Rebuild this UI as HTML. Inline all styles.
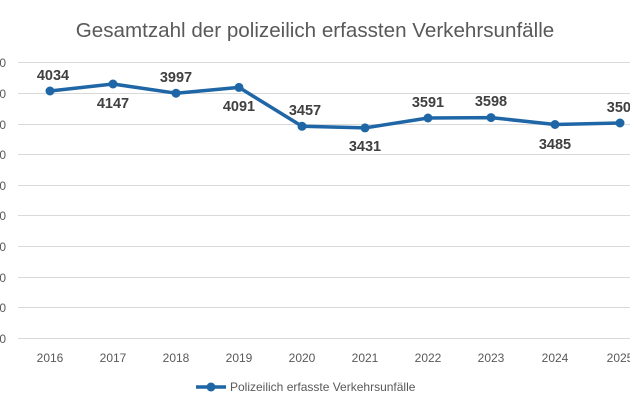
<!DOCTYPE html>
<html><head><style>
body{margin:0;background:#fff;}
svg{display:block;font-family:"Liberation Sans",sans-serif;}
</style></head><body>
<svg width="630" height="412" viewBox="0 0 630 412">
<rect width="630" height="412" fill="#fff"/>
<text x="315" y="37" text-anchor="middle" font-size="20.6" fill="#595959">Gesamtzahl der polizeilich erfassten Verkehrsunfälle</text>
<g stroke="#d9d9d9" stroke-width="1">
<line x1="18" x2="630" y1="62.5" y2="62.5"/><line x1="18" x2="630" y1="93.5" y2="93.5"/>
<line x1="18" x2="630" y1="124.5" y2="124.5"/><line x1="18" x2="630" y1="154.5" y2="154.5"/>
<line x1="18" x2="630" y1="185.5" y2="185.5"/><line x1="18" x2="630" y1="215.5" y2="215.5"/>
<line x1="18" x2="630" y1="246.5" y2="246.5"/><line x1="18" x2="630" y1="277.5" y2="277.5"/>
<line x1="18" x2="630" y1="307.5" y2="307.5"/><line x1="18" x2="630" y1="338.5" y2="338.5"/>
</g>
<g font-size="12" fill="#595959" text-anchor="end">
<text x="6" y="67">0</text><text x="6" y="98">0</text><text x="6" y="129">0</text><text x="6" y="159">0</text><text x="6" y="190">0</text><text x="6" y="220">0</text><text x="6" y="251">0</text><text x="6" y="282">0</text><text x="6" y="312">0</text><text x="6" y="343">0</text>
</g>
<g font-size="12" fill="#595959" text-anchor="middle">
<text x="50" y="362">2016</text><text x="113" y="362">2017</text><text x="176" y="362">2018</text><text x="239" y="362">2019</text><text x="302" y="362">2020</text><text x="365" y="362">2021</text><text x="428" y="362">2022</text><text x="491" y="362">2023</text><text x="555" y="362">2024</text><text x="620" y="362">2025</text>
</g>
<polyline fill="none" stroke="#1f66a6" stroke-width="3.5" stroke-linejoin="round" points="50,91 113,84 176,93.2 239,87.4 302,126.3 365,127.9 428,118 491,117.6 555,124.5 620,123"/>
<g fill="#1f66a6">
<circle cx="50" cy="91" r="4.5"/><circle cx="113" cy="84" r="4.5"/><circle cx="176" cy="93.2" r="4.5"/><circle cx="239" cy="87.4" r="4.5"/><circle cx="302" cy="126.3" r="4.5"/><circle cx="365" cy="127.9" r="4.5"/><circle cx="428" cy="118" r="4.5"/><circle cx="491" cy="117.6" r="4.5"/><circle cx="555" cy="124.5" r="4.5"/><circle cx="620" cy="123" r="4.5"/>
</g>
<g font-size="14.5" font-weight="bold" fill="#404040" text-anchor="middle">
<text x="53" y="80">4034</text><text x="113" y="108">4147</text><text x="176" y="82">3997</text><text x="239" y="111">4091</text><text x="305" y="115">3457</text><text x="365" y="151">3431</text><text x="428" y="107">3591</text><text x="491" y="106">3598</text><text x="555" y="149">3485</text><text x="631" y="112" text-anchor="end">350</text>
</g>
<line x1="196" x2="226" y1="387" y2="387" stroke="#1f66a6" stroke-width="3.5"/>
<circle cx="211" cy="387" r="4.5" fill="#1f66a6"/>
<text x="230" y="391" font-size="12" fill="#595959">Polizeilich erfasste Verkehrsunfälle</text>
</svg>
</body></html>
